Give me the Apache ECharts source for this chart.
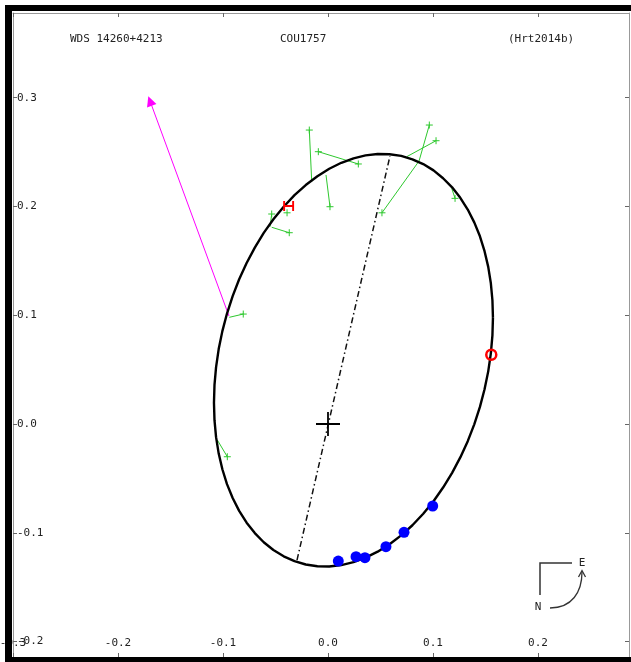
<!DOCTYPE html>
<html><head><meta charset="utf-8">
<script src="https://cdn.jsdelivr.net/npm/echarts@6/dist/echarts.min.js"></script>
<style>html,body{margin:0;padding:0;background:#fff}#c{width:631px;height:662px}</style>
</head><body><div id="c"></div>
<script>
// ---- data ----
const xTicks = [-0.3, -0.2, -0.1, 0.0, 0.1, 0.2];
const yTicks = [-0.2, -0.1, 0.0, 0.1, 0.2, 0.3];
const titleLeft = 'WDS 14260+4213';
const titleMid = 'COU1757';
const titleRight = '(Hrt2014b)';

// apparent orbit (points read along the drawn ellipse)
const orbitX = [0.1571,0.1566,0.1551,0.1526,0.1491,0.1447,0.1393,0.1331,0.1260,0.1182,0.1096,0.1005,0.0907,0.0804,0.0697,0.0586,0.0473,0.0358,0.0243,0.0127,0.0012,-0.0101,-0.0212,-0.0319,-0.0422,-0.0520,-0.0612,-0.0697,-0.0775,-0.0846,-0.0908,-0.0962,-0.1006,-0.1041,-0.1066,-0.1081,-0.1086,-0.1081,-0.1066,-0.1041,-0.1006,-0.0962,-0.0908,-0.0846,-0.0775,-0.0697,-0.0612,-0.0520,-0.0422,-0.0319,-0.0212,-0.0101,0.0012,0.0127,0.0243,0.0358,0.0473,0.0586,0.0697,0.0804,0.0907,0.1005,0.1096,0.1182,0.1260,0.1331,0.1393,0.1447,0.1491,0.1526,0.1551,0.1566];
const orbitY = [0.0978,0.1138,0.1294,0.1445,0.1589,0.1726,0.1854,0.1972,0.2080,0.2176,0.2260,0.2332,0.2390,0.2434,0.2465,0.2481,0.2483,0.2470,0.2443,0.2402,0.2347,0.2278,0.2197,0.2104,0.1998,0.1883,0.1757,0.1622,0.1480,0.1331,0.1176,0.1016,0.0854,0.0689,0.0523,0.0359,0.0195,0.0035,-0.0121,-0.0272,-0.0416,-0.0553,-0.0681,-0.0799,-0.0907,-0.1003,-0.1087,-0.1159,-0.1217,-0.1261,-0.1292,-0.1308,-0.1310,-0.1297,-0.1270,-0.1229,-0.1174,-0.1105,-0.1024,-0.0931,-0.0825,-0.0710,-0.0584,-0.0449,-0.0307,-0.0158,-0.0003,0.0157,0.0319,0.0484,0.0650,0.0815];

// speckle measures (blue)
const blueX = [0.0098, 0.0267, 0.0352, 0.0552, 0.0724, 0.0997];
const blueY = [-0.1260, -0.1220, -0.1229, -0.1128, -0.0996, -0.0754];

// micrometer measures (green +) and their predicted positions on the orbit
const obsX  = [-0.0178, -0.0092, 0.0289, 0.0019, -0.0536, -0.0369, -0.0390, 0.0965, 0.0514, 0.1029, 0.1210, -0.0807, -0.0959];
const obsY  = [ 0.2703,  0.2504, 0.2391, 0.1998,  0.1931,  0.1759,  0.1942, 0.2749, 0.1942, 0.2605, 0.2075,  0.1011, -0.0301];
const predX = [-0.0155,  0.0289, 0.0289, -0.0019, -0.0552, -0.0536, -0.0390, 0.0867, 0.0867, 0.0750, 0.1178, -0.0940, -0.1054];
const predY = [ 0.2228,  0.2391, 0.2391, 0.2290,  0.1814,  0.1809,  0.1942, 0.2418, 0.2418, 0.2458, 0.2167,  0.0981, -0.0147];

// Hipparcos (H), first-epoch circle, line of nodes, proper-motion arrow
const hipX = [-0.0375], hipY = [0.2005];
const circX = [0.1555], circY = [0.0637];
const nodeX = [-0.0295, 0.0590], nodeY = [-0.1251, 0.2463];
const arrowX = [-0.0943, -0.1695], arrowY = [0.0993, 0.2970];
const originX = [0], originY = [0];

// ---- chart ----
const font = 'DejaVu Sans Mono';
const fmt = v => { const r = Math.round(v*10)/10; return (r === 0 ? 0 : r).toFixed(1); };
const zip = (a, b) => a.map((v, i) => [v, b[i]]);
const orbit = zip(orbitX, orbitY); orbit.push(orbit[0]);

const axisCommon = {
  type: 'value', splitLine: {show: false},
  axisLine: {show: true, onZero: false, lineStyle: {color: '#999', width: 1}},
};
const chart = echarts.init(document.getElementById('c'), null, {renderer: 'canvas'});
chart.setOption({
  animation: false,
  backgroundColor: '#fff',
  grid: {left: 13, right: 2, top: 13, bottom: 5, containLabel: false, outerBoundsMode: 'none'},
  xAxis: [
    Object.assign({}, axisCommon, {position: 'bottom', min: -0.3, max: 0.28667,
      axisTick: {show: true, inside: true, length: 4, customValues: xTicks, lineStyle: {color: '#666'}},
      axisLabel: {show: true, inside: true, margin: 8, customValues: xTicks, formatter: fmt,
        fontFamily: font, fontSize: 11, color: '#222'}}),
    Object.assign({}, axisCommon, {position: 'top', min: -0.3, max: 0.28667,
      axisTick: {show: true, inside: true, length: 4, customValues: xTicks, lineStyle: {color: '#666'}},
      axisLabel: {show: false}})
  ],
  yAxis: [
    Object.assign({}, axisCommon, {position: 'left', min: -0.21425, max: 0.37793,
      axisTick: {show: true, inside: true, length: 4, customValues: yTicks, lineStyle: {color: '#666'}},
      axisLabel: {show: true, inside: true, margin: 4, customValues: yTicks, formatter: fmt,
        fontFamily: font, fontSize: 11, color: '#222'}}),
    Object.assign({}, axisCommon, {position: 'right', min: -0.21425, max: 0.37793,
      axisTick: {show: true, inside: true, length: 4, customValues: yTicks, lineStyle: {color: '#666'}},
      axisLabel: {show: false}})
  ],
  series: [
    {type: 'line', data: orbit, showSymbol: false, symbol: 'none', silent: true, smooth: false,
      lineStyle: {color: '#000', width: 2.4, join: 'round'}, z: 3},
    {type: 'lines', coordinateSystem: 'cartesian2d', silent: true, z: 2,
      lineStyle: {color: '#111', width: 1.5, type: [6, 3, 1.5, 3], opacity: 1},
      data: [{coords: zip(nodeX, nodeY)}]},
    {type: 'lines', coordinateSystem: 'cartesian2d', silent: true, z: 2,
      lineStyle: {color: '#2ec82e', width: 1, opacity: 1},
      data: obsX.map((v, i) => ({coords: [[v, obsY[i]], [predX[i], predY[i]]]}))},
    {type: 'scatter', data: zip(obsX, obsY), silent: true, z: 4,
      symbol: 'path://M5,0L5,10M0,5L10,5', symbolSize: 7,
      itemStyle: {color: 'rgba(0,0,0,0)', borderColor: '#2ec82e', borderWidth: 1, opacity: 1}},
    {type: 'lines', coordinateSystem: 'cartesian2d', silent: true, z: 2,
      symbol: ['none', 'triangle'], symbolSize: 10,
      lineStyle: {color: '#ff00ff', width: 1, opacity: 1},
      data: [{coords: zip(arrowX, arrowY)}]},
    {type: 'scatter', data: zip(blueX, blueY), silent: true, z: 5,
      symbol: 'circle', symbolSize: 11, itemStyle: {color: '#0000ff', opacity: 1}},
    {type: 'scatter', data: zip(hipX, hipY), silent: true, z: 6,
      symbol: 'path://M0,0L0,10M10,0L10,10M0,5L10,5', symbolSize: [9, 10],
      itemStyle: {color: 'rgba(0,0,0,0)', borderColor: '#ff0000', borderWidth: 2, opacity: 1}},
    {type: 'scatter', data: zip(circX, circY), silent: true, z: 6,
      symbol: 'circle', symbolSize: 10,
      itemStyle: {color: 'rgba(0,0,0,0)', borderColor: '#ff0000', borderWidth: 2.5, opacity: 1}},
    {type: 'scatter', data: zip(originX, originY), silent: true, z: 6,
      symbol: 'path://M5,0L5,10M0,5L10,5', symbolSize: 24,
      itemStyle: {color: 'rgba(0,0,0,0)', borderColor: '#000', borderWidth: 1.8, opacity: 1}}
  ],
  graphic: [
    {type: 'text', left: 70, top: 34, style: {text: titleLeft, font: '11px ' + font, fill: '#222'}},
    {type: 'text', left: 280, top: 34, style: {text: titleMid, font: '11px ' + font, fill: '#222'}},
    {type: 'text', left: 508, top: 34, style: {text: titleRight, font: '11px ' + font, fill: '#222'}},
    // compass
    {type: 'polyline', shape: {points: [[540, 595], [540, 563], [572, 563]]}, style: {stroke: '#333', lineWidth: 1.5, fill: null}},
    {type: 'text', x: 582, y: 563, style: {text: 'E', font: '11px ' + font, fill: '#222', align: 'center', verticalAlign: 'middle'}},
    {type: 'text', x: 538, y: 607, style: {text: 'N', font: '11px ' + font, fill: '#222', align: 'center', verticalAlign: 'middle'}},
    {type: 'bezierCurve', shape: {x1: 550, y1: 608, cpx1: 572, cpy1: 608, x2: 582, y2: 572, cpx2: 582, cpy2: 592}, style: {stroke: '#333', lineWidth: 1.3, fill: null}},
    {type: 'polyline', shape: {points: [[578.5, 577], [582, 570.5], [585.5, 577]]}, style: {stroke: '#333', lineWidth: 1.3, fill: null}},
    // picture frame
    {type: 'rect', z: 100, shape: {x: 5, y: 5, width: 7, height: 657}, style: {fill: '#000'}},
    {type: 'rect', z: 100, shape: {x: 5, y: 5, width: 626, height: 6}, style: {fill: '#000'}},
    {type: 'rect', z: 100, shape: {x: 5, y: 657, width: 626, height: 5}, style: {fill: '#000'}}
  ]
});
</script></body></html>
